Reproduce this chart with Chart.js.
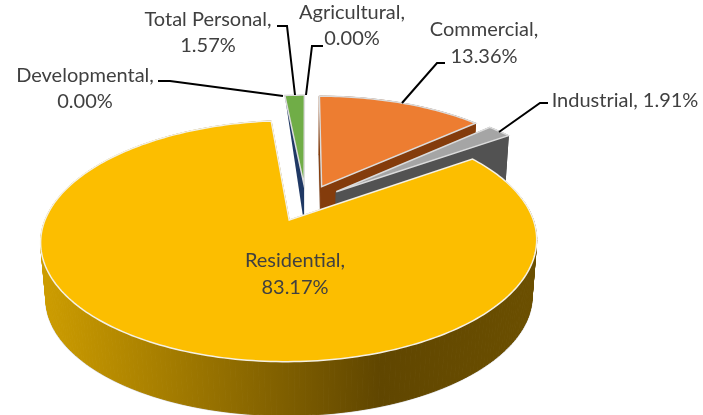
<!DOCTYPE html>
<html>
<head>
<meta charset="utf-8">
<style>
  html, body { margin: 0; padding: 0; background: #fff; }
  #chart { display: block; }
</style>
<script src="https://cdn.jsdelivr.net/npm/chart.js@4/dist/chart.umd.js"></script>
</head>
<body>
<canvas id="chart" width="703" height="415"></canvas>
<script>
var categories = ['Agricultural', 'Commercial', 'Industrial', 'Residential', 'Developmental', 'Total Personal'];
var shares = [0.00, 13.36, 1.91, 83.17, 0.00, 1.57];
var topColors = ['#4472c4', '#ed7d31', '#a5a5a5', '#fcbe00', '#5b9bd5', '#70ad47'];
var wallColors = ['#264478', '#843c0c', '#525252', '#7f6000', '#255e91', '#1f3864'];

// label anchors: [centre x, first line y, second line y]
var labelPlaces = [[352, 13, 39], [484, 30, 57], [625, 101, null], [295, 261, 288], [85, 76, 102], [208, 20, 46]];
var leaders = [
  [[323, 46], [312, 46], [306, 95]],
  [[445, 63], [437, 63], [402, 103]],
  [[548, 103], [540, 103], [499, 132]],
  null,
  [[158, 81], [170, 81], [283, 96]],
  [[277, 26], [287, 26], [295, 95]]
];

// projection of the tilted pie
var view = { cx: 306, cy: 203, rx: 238, ry: 111, persp: 0.17, depth: 57, shrink: 0.98, explode: 0.165 };

function project(x, y, z) {
  var w = 1 + view.persp * y;
  var s = z ? view.shrink : 1;
  return [view.cx + view.rx * s * x / w, view.cy + view.depth * z - view.ry * s * y / w];
}

function sliceOutline(arc) {
  // chart.js angles start at -PI/2, turn them into clockwise-from-top
  var a0 = arc.startAngle + Math.PI / 2;
  var a1 = arc.endAngle + Math.PI / 2;
  var mid = (a0 + a1) / 2;
  var ox = Math.sin(mid) * view.explode;
  var oy = Math.cos(mid) * view.explode;
  var pts = [[ox, oy]];
  var steps = Math.max(2, Math.ceil((a1 - a0) / 0.02));
  for (var i = 0; i <= steps; i++) {
    var a = a0 + (a1 - a0) * i / steps;
    pts.push([ox + Math.sin(a), oy + Math.cos(a)]);
  }
  return pts;
}

function fillPath(ctx, pts, z) {
  ctx.beginPath();
  pts.forEach(function(p, i) {
    var q = project(p[0], p[1], z);
    if (i === 0) ctx.moveTo(q[0], q[1]); else ctx.lineTo(q[0], q[1]);
  });
  ctx.closePath();
}

function drawWalls(ctx, pts, fill) {
  ctx.fillStyle = fill;
  ctx.strokeStyle = fill;
  ctx.lineWidth = 1;
  pts.forEach(function(p, i) {
    var n = pts[(i + 1) % pts.length];
    var a = project(p[0], p[1], 0), b = project(n[0], n[1], 0);
    var c = project(n[0], n[1], 1), d = project(p[0], p[1], 1);
    ctx.beginPath();
    ctx.moveTo(a[0], a[1]);
    ctx.lineTo(b[0], b[1]);
    ctx.lineTo(c[0], c[1]);
    ctx.lineTo(d[0], d[1]);
    ctx.closePath();
    ctx.fill();
    ctx.stroke();
  });
}

var pie3d = {
  id: 'pie3d',
  beforeDatasetsDraw: function(chart) {
    var ctx = chart.ctx;
    var arcs = chart.getDatasetMeta(0).data;
    var wallGrad = ctx.createLinearGradient(47, 0, 536, 0);
    wallGrad.addColorStop(0, '#cc9c00');
    wallGrad.addColorStop(0.68, '#604600');
    wallGrad.addColorStop(1, '#6b4f00');

    // back slices first, the big one goes over them
    [5, 1, 2, 3].forEach(function(i) {
      var pts = sliceOutline(arcs[i]);
      ctx.save();
      if (i === 5) {
        // only a thin sliver of this wall shows
        var apex = project(pts[0][0], pts[0][1], 0);
        var rim = project(pts[1][0], pts[1][1], 0);
        var low = project(pts[0][0], pts[0][1], 0.68);
        ctx.fillStyle = wallColors[i];
        ctx.beginPath();
        ctx.moveTo(rim[0], rim[1]);
        ctx.lineTo(apex[0], apex[1]);
        ctx.lineTo(low[0], low[1]);
        ctx.closePath();
        ctx.fill();
      } else {
        fillPath(ctx, pts, 1);
        ctx.strokeStyle = '#d4d4d4';
        ctx.lineWidth = 2;
        ctx.stroke();
        drawWalls(ctx, pts, i === 3 ? wallGrad : wallColors[i]);
      }
      fillPath(ctx, pts, 0);
      ctx.fillStyle = topColors[i];
      ctx.fill();
      ctx.strokeStyle = i === 3 ? '#f4f1e6' : '#dcdcdc';
      ctx.lineWidth = 1.5;
      ctx.stroke();
      ctx.restore();
    });
    return false;
  },
  afterDraw: function(chart) {
    var ctx = chart.ctx;
    ctx.save();
    ctx.strokeStyle = '#000';
    ctx.lineWidth = 2;
    leaders.forEach(function(line) {
      if (!line) return;
      ctx.beginPath();
      line.forEach(function(p, i) {
        if (i === 0) ctx.moveTo(p[0], p[1]); else ctx.lineTo(p[0], p[1]);
      });
      ctx.stroke();
    });
    ctx.fillStyle = '#404040';
    ctx.font = '20px Lato, "Open Sans", sans-serif';
    ctx.textAlign = 'center';
    ctx.textBaseline = 'middle';
    categories.forEach(function(name, i) {
      var place = labelPlaces[i];
      var pct = shares[i].toFixed(2) + '%';
      if (place[2] === null) {
        ctx.fillText(name + ', ' + pct, place[0], place[1]);
      } else {
        ctx.fillText(name + ',', place[0], place[1]);
        ctx.fillText(pct, place[0], place[2]);
      }
    });
    ctx.restore();
  }
};

new Chart(document.getElementById('chart').getContext('2d'), {
  type: 'pie',
  data: {
    labels: categories,
    datasets: [{ data: shares, backgroundColor: topColors }]
  },
  options: {
    responsive: false,
    animation: false,
    plugins: { legend: { display: false }, tooltip: { enabled: false } }
  },
  plugins: [pie3d]
});
</script>
</body>
</html>
